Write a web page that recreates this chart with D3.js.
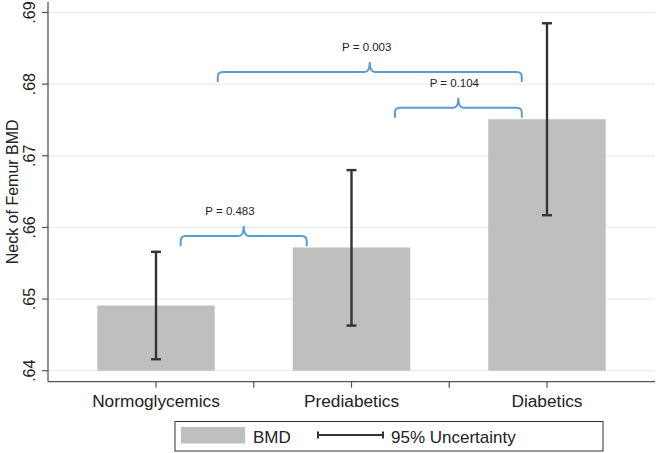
<!DOCTYPE html>
<html>
<head>
<meta charset="utf-8">
<script src="https://cdn.jsdelivr.net/npm/d3@7"></script>
<style>
html,body{margin:0;padding:0;background:#fff;}
svg{display:block;font-family:"Liberation Sans",Arial,sans-serif;}
</style>
</head>
<body>
<svg id="chart" width="657" height="453"></svg>
<script>
// ---- data ----
const categories = ["Normoglycemics", "Prediabetics", "Diabetics"];
const bmdMeans   = [0.6491, 0.6572, 0.6751];
const ciLower    = [0.6416, 0.6463, 0.6617];
const ciUpper    = [0.6566, 0.6680, 0.6885];
const yTicks     = [0.64, 0.65, 0.66, 0.67, 0.68, 0.69];
const yTickLabels = [".64", ".65", ".66", ".67", ".68", ".69"];
// significance brackets: from/to/label position in category units, level in BMD units
const bracketLabels = ["P = 0.483", "P = 0.003", "P = 0.104"];
const bracketFrom   = [0.126, 0.316, 1.222];
const bracketTo     = [0.771, 1.871, 1.871];
const bracketLabelX = [0.3785, 1.078, 1.526];
const bracketLevel  = [0.6588, 0.6817, 0.6767];
const legendLabels  = ["BMD", "95% Uncertainty"];

(function () {
const svg = d3.select("#chart");
const pLeft = 48, pRight = 655, pTop = 2, pBottom = 381.7;

const x = d3.scaleBand().domain(categories).range([pLeft, pRight])
  .paddingInner(0.399).paddingOuter(0.252);
const xc = d3.scaleLinear().domain([0, 1])
  .range([x(categories[0]) + x.bandwidth() / 2, x(categories[1]) + x.bandwidth() / 2]);
const y = d3.scaleLinear().domain([0.64, 0.69]).range([370.7, 12.5]);

// gridlines
svg.append("g").selectAll("line").data(yTicks).join("line")
  .attr("x1", pLeft).attr("x2", pRight)
  .attr("y1", d => y(d)).attr("y2", d => y(d))
  .attr("stroke", "#e6ecf0").attr("stroke-width", 1.2);

// bars
svg.append("g").selectAll("rect").data(categories).join("rect")
  .attr("x", d => x(d)).attr("width", x.bandwidth())
  .attr("y", (d, i) => y(bmdMeans[i]))
  .attr("height", (d, i) => y(0.64) - y(bmdMeans[i]))
  .attr("fill", "#bfbfbf");

// error bars
const eb = svg.append("g").attr("stroke", "#333").attr("stroke-width", 2.4);
categories.forEach((c, i) => {
  const cx = x(c) + x.bandwidth() / 2;
  eb.append("line").attr("x1", cx).attr("x2", cx).attr("y1", y(ciLower[i])).attr("y2", y(ciUpper[i]));
  eb.append("line").attr("x1", cx - 5).attr("x2", cx + 5).attr("y1", y(ciLower[i])).attr("y2", y(ciLower[i]));
  eb.append("line").attr("x1", cx - 5).attr("x2", cx + 5).attr("y1", y(ciUpper[i])).attr("y2", y(ciUpper[i]));
});

// y axis
const yAxis = svg.append("g").attr("transform", `translate(${pLeft},0)`);
yAxis.append("line").attr("x1", 0).attr("x2", 0).attr("y1", pTop).attr("y2", pBottom)
  .attr("stroke", "#555").attr("stroke-width", 1.3);
yAxis.selectAll("line.tick").data(yTicks).join("line").attr("class", "tick")
  .attr("x1", -6).attr("x2", 0).attr("y1", d => y(d)).attr("y2", d => y(d))
  .attr("stroke", "#555").attr("stroke-width", 1.2);
yAxis.selectAll("text").data(yTicks).join("text")
  .attr("transform", d => `translate(-13,${y(d)}) rotate(-90)`)
  .attr("text-anchor", "middle").attr("font-size", 16).attr("fill", "#222")
  .text((d, i) => yTickLabels[i]);

svg.append("text")
  .attr("transform", `translate(18,${(pTop + pBottom) / 2}) rotate(-90)`)
  .attr("text-anchor", "middle").attr("font-size", 16).attr("fill", "#222")
  .text("Neck of Femur BMD");

// x axis
const xAxis = svg.append("g").attr("transform", `translate(0,${pBottom})`);
xAxis.append("line").attr("x1", pLeft).attr("x2", pRight).attr("y1", 0).attr("y2", 0)
  .attr("stroke", "#555").attr("stroke-width", 1.3);
const centers = categories.map(c => x(c) + x.bandwidth() / 2);
const tickPos = centers.concat(centers.slice(1).map((c, i) => (c + centers[i]) / 2));
xAxis.selectAll("line.tick").data(tickPos).join("line").attr("class", "tick")
  .attr("x1", d => d).attr("x2", d => d).attr("y1", 0).attr("y2", 6)
  .attr("stroke", "#555").attr("stroke-width", 1.2);
xAxis.selectAll("text").data(categories).join("text")
  .attr("x", d => x(d) + x.bandwidth() / 2).attr("y", 25)
  .attr("text-anchor", "middle").attr("font-size", 17.3).attr("fill", "#222")
  .text(d => d);

// brackets
const bg = svg.append("g");
bracketLabels.forEach((lab, i) => {
  const x1 = xc(bracketFrom[i]), x2 = xc(bracketTo[i]);
  const yh = y(bracketLevel[i]);
  const mid = (x1 + x2) / 2;
  const r = 5, drop = 10, spike = 10;
  const p = d3.path();
  p.moveTo(x1, yh + drop);
  p.lineTo(x1, yh + r);
  p.quadraticCurveTo(x1, yh, x1 + r, yh);
  p.lineTo(mid - r, yh);
  p.quadraticCurveTo(mid, yh, mid, yh - spike);
  p.quadraticCurveTo(mid, yh, mid + r, yh);
  p.lineTo(x2 - r, yh);
  p.quadraticCurveTo(x2, yh, x2, yh + r);
  p.lineTo(x2, yh + drop);
  bg.append("path").attr("d", p.toString()).attr("fill", "none")
    .attr("stroke", "#5b9bd5").attr("stroke-width", 2);
  bg.append("text").attr("x", xc(bracketLabelX[i])).attr("y", yh - spike - 11)
    .attr("text-anchor", "middle").attr("font-size", 11.5).attr("fill", "#222")
    .text(lab);
});

// legend
const lg = svg.append("g");
lg.append("rect").attr("x", 175).attr("y", 421.5).attr("width", 428).attr("height", 29.5)
  .attr("fill", "#fff").attr("stroke", "#333").attr("stroke-width", 1);
lg.append("rect").attr("x", 181).attr("y", 427).attr("width", 64).attr("height", 16.5)
  .attr("fill", "#bfbfbf");
lg.append("text").attr("x", 253).attr("y", 442.5).attr("font-size", 17).attr("fill", "#222").text(legendLabels[0]);
lg.append("line").attr("x1", 318).attr("x2", 383).attr("y1", 435).attr("y2", 435)
  .attr("stroke", "#333").attr("stroke-width", 2);
lg.append("line").attr("x1", 318).attr("x2", 318).attr("y1", 431.5).attr("y2", 438.5)
  .attr("stroke", "#333").attr("stroke-width", 2);
lg.append("line").attr("x1", 383).attr("x2", 383).attr("y1", 431.5).attr("y2", 438.5)
  .attr("stroke", "#333").attr("stroke-width", 2);
lg.append("text").attr("x", 391).attr("y", 442.5).attr("font-size", 17).attr("fill", "#222").text(legendLabels[1]);
})();
</script>
</body>
</html>
